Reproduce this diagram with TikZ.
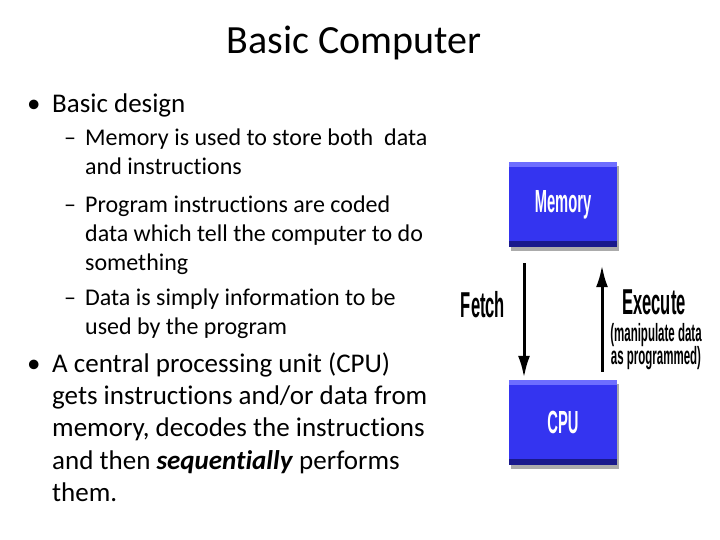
\documentclass[tikz,border=0pt]{standalone}
\usepackage{fontspec}
\setmainfont{Carlito}[Ligatures=NoCommon]
\newfontfamily\diafont[FakeStretch=0.46]{Liberation Sans Bold}
\usetikzlibrary{arrows.meta,shadows}
\definecolor{boxblue}{RGB}{52,52,240}
\definecolor{boxtop}{RGB}{110,110,255}
\definecolor{boxbot}{RGB}{25,25,140}

\begin{document}
\begin{tikzpicture}[x=1pt, y=-1pt,
  title/.style = {font=\fontsize{40}{46}\selectfont, anchor=base},
  lvlone/.style = {font=\fontsize{27}{32}\selectfont, anchor=base west, inner sep=0pt},
  lvltwo/.style = {font=\fontsize{24}{28}\selectfont, anchor=base west, inner sep=0pt},
  blk/.style = {fill=boxblue, minimum width=108pt, minimum height=85pt, inner sep=0pt,
    text=white, font=\diafont\fontsize{32}{34}\selectfont,
    drop shadow={shadow xshift=2pt, shadow yshift=-4pt, fill=black!55, opacity=0.6},
    path picture={
      \fill[boxtop] (path picture bounding box.north west) rectangle ([yshift=-5pt]path picture bounding box.north east);
      \fill[boxbot] (path picture bounding box.south west) rectangle ([yshift=6pt]path picture bounding box.south east);}},
  lbl/.style = {font=\diafont\fontsize{36}{38}\selectfont, anchor=base, inner sep=0pt},
  sublbl/.style = {font=\diafont\fontsize{25}{27}\selectfont, anchor=base, inner sep=0pt},
  flow/.style = {line width=3pt, -{Latex[length=22pt, width=12pt]}}]

\useasboundingbox[fill=white] (0, 0) rectangle (720, 540);

\node[title] (T) at (354, 54) {Basic Computer};

% first bullet
\node[lvlone] (D1) at (27, 113) {\textbullet};
\node[lvlone] (L1) at (52, 113) {Basic design};

\node[lvltwo] (D2) at (64, 146) {–};
\node[lvltwo] (L2) at (85, 146) {Memory is used to store both \ data};
\node[lvltwo] (L3) at (85, 175) {and instructions};

\node[lvltwo] (D3) at (64, 212) {–};
\node[lvltwo] (L4) at (85, 212) {Program instructions are coded};
\node[lvltwo] (L5) at (85, 241) {data which tell the computer to do};
\node[lvltwo] (L6) at (85, 270) {something};

\node[lvltwo] (D4) at (64, 305) {–};
\node[lvltwo] (L7) at (85, 305) {Data is simply information to be};
\node[lvltwo] (L8) at (85, 334) {used by the program};

% second bullet
\node[lvlone] (D5) at (27, 372) {\textbullet};
\node[lvlone] (L9) at (52, 372) {A central processing unit (CPU)};
\node[lvlone] (L10) at (52, 404) {gets instructions and/or data from};
\node[lvlone] (L11) at (52, 436) {memory, decodes the instructions};
\node[lvlone] (L12) at (52, 469) {and then \textbf{\textit{sequentially}} performs};
\node[lvlone] (L13) at (52, 501) {them.};

% fetch / execute cycle
\node[blk] (M) at (563, 204.5) {Memory};
\node[blk] (C) at (563, 422.5) {CPU};

\draw[flow] ([xshift=-39pt, yshift=-16pt]M.south) -- ([xshift=-39pt, yshift=2pt]C.north);
\draw[flow] ([xshift=39pt, yshift=8pt]C.north) -- ([xshift=39pt, yshift=-18pt]M.south);

\node[lbl] (F) at (483, 317) {Fetch};
\node[lbl] (E) at (654, 314) {Execute};
\node[sublbl] (E1) at (656, 341) {(manipulate data};
\node[sublbl] (E2) at (656, 364) {as programmed)};

\end{tikzpicture}
\end{document}
